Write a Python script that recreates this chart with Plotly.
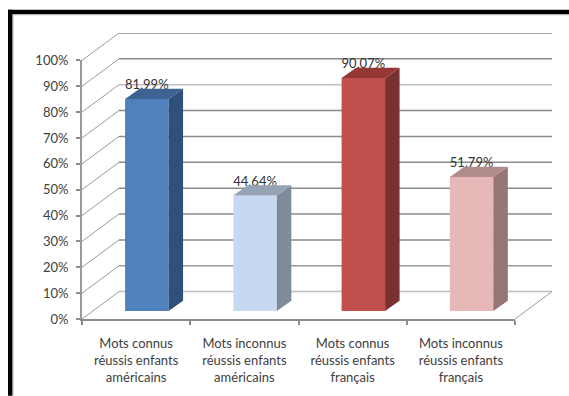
import plotly.graph_objects as go

# ---- data ----
categories = ["Mots connus<br>réussis enfants<br>américains",
              "Mots inconnus<br>réussis enfants<br>américains",
              "Mots connus<br>réussis enfants<br>français",
              "Mots inconnus<br>réussis enfants<br>français"]
values = [81.99, 44.64, 90.07, 51.79]
value_labels = ["81,99%", "44,64%", "90,07%", "51,79%"]
y_ticks = [0, 10, 20, 30, 40, 50, 60, 70, 80, 90, 100]
y_tick_labels = ["0%", "10%", "20%", "30%", "40%", "50%", "60%", "70%", "80%", "90%", "100%"]
front_colors = ["#4F81BD", "#C6D9F1", "#C0504D", "#E6B9B8"]
side_colors = ["#2F5078", "#7F8A9B", "#7A3230", "#957674"]
top_colors = ["#3C6391", "#95A3B5", "#953735", "#B08D8C"]
grid_colors = ["#BDBDBD", "#9A9A9A", "#8A8A8A", "#8A8A8A", "#8A8A8A", "#8A8A8A", "#8A8A8A", "#8A8A8A", "#BFBFBF", "#8A8A8A", "#8A8A8A"]

# ---- layout of the pseudo-3D box (pixels) ----
W, H = 569, 396
LEFT, FRONT_RIGHT, BACK_RIGHT = 82.0, 515.0, 552.0
ZERO_Y, HUNDRED_Y, BACK_TOP_Y = 319.3, 60.7, 33.3
px_x = (FRONT_RIGHT - LEFT) / 4
px_y = (ZERO_Y - HUNDRED_Y) / 100
x_max = (BACK_RIGHT - LEFT) / px_x
y_max = (ZERO_Y - BACK_TOP_Y) / px_y
wall_dx, wall_dy = x_max - 4, y_max - 100      # wall depth in axis units
bar_shift_x, bar_shift_y = 10.7 / px_x, 8.0 / px_y
depth_x, depth_y = 14.5 / px_x, 10.3 / px_y
bar_w = 43.5 / px_x
label_drop = 3.5 / px_y

fig = go.Figure()
centers = [i + 0.5 + bar_shift_x for i in range(len(values))]

fig.add_trace(go.Bar(x=centers, y=values, base=bar_shift_y, width=bar_w,
                     marker=dict(color=front_colors, line=dict(width=0)),
                     hoverinfo="skip", showlegend=False))

# value labels: under the top faces, as in the picture
fig.add_trace(go.Scatter(x=centers, y=[v + bar_shift_y + depth_y - label_drop for v in values],
                         text=value_labels, mode="text", textposition="top center",
                         textfont=dict(family="Lato", size=13, color="#333333"),
                         hoverinfo="skip", showlegend=False))

for c, v, sc, tc in zip(centers, values, side_colors, top_colors):
    l, r = c - bar_w / 2, c + bar_w / 2
    t = v + bar_shift_y
    fig.add_trace(go.Scatter(x=[r, r + depth_x, r + depth_x, r, r],
                             y=[bar_shift_y, bar_shift_y + depth_y, t + depth_y, t, bar_shift_y],
                             mode="lines", fill="toself", fillcolor=sc, line=dict(width=0),
                             hoverinfo="skip", showlegend=False))
    fig.add_trace(go.Scatter(x=[l, r, r + depth_x, l + depth_x, l],
                             y=[t, t, t + depth_y, t + depth_y, t],
                             mode="lines", fill="toself", fillcolor=tc, line=dict(width=0),
                             hoverinfo="skip", showlegend=False))

# empty trace so that the front axes (x2 / y2) are drawn
fig.add_trace(go.Scatter(x=[None], y=[None], xaxis="x2", yaxis="y2", mode="markers",
                         hoverinfo="skip", showlegend=False))

shapes = []
for v, col in zip(y_ticks, grid_colors):
    shapes.append(dict(type="line", xref="x", yref="y", layer="below",
                       x0=wall_dx, x1=x_max, y0=v + wall_dy, y1=v + wall_dy,
                       line=dict(color=col, width=1.5)))
    shapes.append(dict(type="line", xref="x", yref="y", layer="below",
                       x0=0, x1=wall_dx, y0=v, y1=v + wall_dy,
                       line=dict(color="#9A9A9A", width=1)))
shapes.append(dict(type="line", xref="x", yref="y", layer="below",
                   x0=4, x1=x_max, y0=0, y1=wall_dy, line=dict(color="#9A9A9A", width=1)))

# black frame (top and left only) with its thin grey inner edge
def fx(p): return (p - LEFT) / (BACK_RIGHT - LEFT)
def fy(p): return (ZERO_Y - p) / (ZERO_Y - BACK_TOP_Y)
def rect(x0, y0, x1, y1, col):
    shapes.append(dict(type="rect", xref="paper", yref="paper", x0=fx(x0), x1=fx(x1),
                       y0=fy(y0), y1=fy(y1), fillcolor=col, line=dict(width=0)))
rect(12.3, 14.3, W, 15.5, "#B5B5B5")
rect(12.3, 14.3, 13.5, H, "#B5B5B5")
rect(8, 10, W, 14.3, "#000000")
rect(8, 10, 12.3, H, "#000000")

fig.update_layout(
    width=W, height=H, autosize=False,
    margin=dict(l=LEFT, r=W - BACK_RIGHT, t=BACK_TOP_Y, b=H - ZERO_Y, pad=0),
    paper_bgcolor="white", plot_bgcolor="rgba(0,0,0,0)", showlegend=False, shapes=shapes,
    xaxis=dict(range=[0, x_max], domain=[0, 1], visible=False, fixedrange=True),
    yaxis=dict(range=[0, y_max], domain=[0, 1], visible=False, fixedrange=True),
    xaxis2=dict(range=[0, 4], domain=[0, 4 / x_max], anchor="y2", showgrid=False, zeroline=False,
                showline=True, linecolor="#8C8C8C", linewidth=1.5, fixedrange=True,
                tickmode="array", tickvals=[0.5, 1.5, 2.5, 3.5], ticktext=categories, ticks="",
                tickangle=0, ticklabelstandoff=12,
                tickfont=dict(family="Lato", size=13, color="#404040"),
                minor=dict(tickmode="array", tickvals=[0, 1, 2, 3, 4], ticks="outside",
                           ticklen=4, tickwidth=1.5, tickcolor="#8C8C8C", showgrid=False)),
    yaxis2=dict(range=[0, 100], domain=[0, 100 / y_max], anchor="x2", showgrid=False, zeroline=False,
                showline=True, linecolor="#9A9A9A", linewidth=2, fixedrange=True,
                tickmode="array", tickvals=y_ticks, ticktext=y_tick_labels,
                ticks="outside", ticklen=4, tickwidth=1.5, tickcolor="#8C8C8C", ticklabelstandoff=5,
                tickfont=dict(family="Lato", size=13, color="#404040")),
)
fig.write_html("out.html", config={"displayModeBar": False},
               post_script="document.body.style.margin='0';")
